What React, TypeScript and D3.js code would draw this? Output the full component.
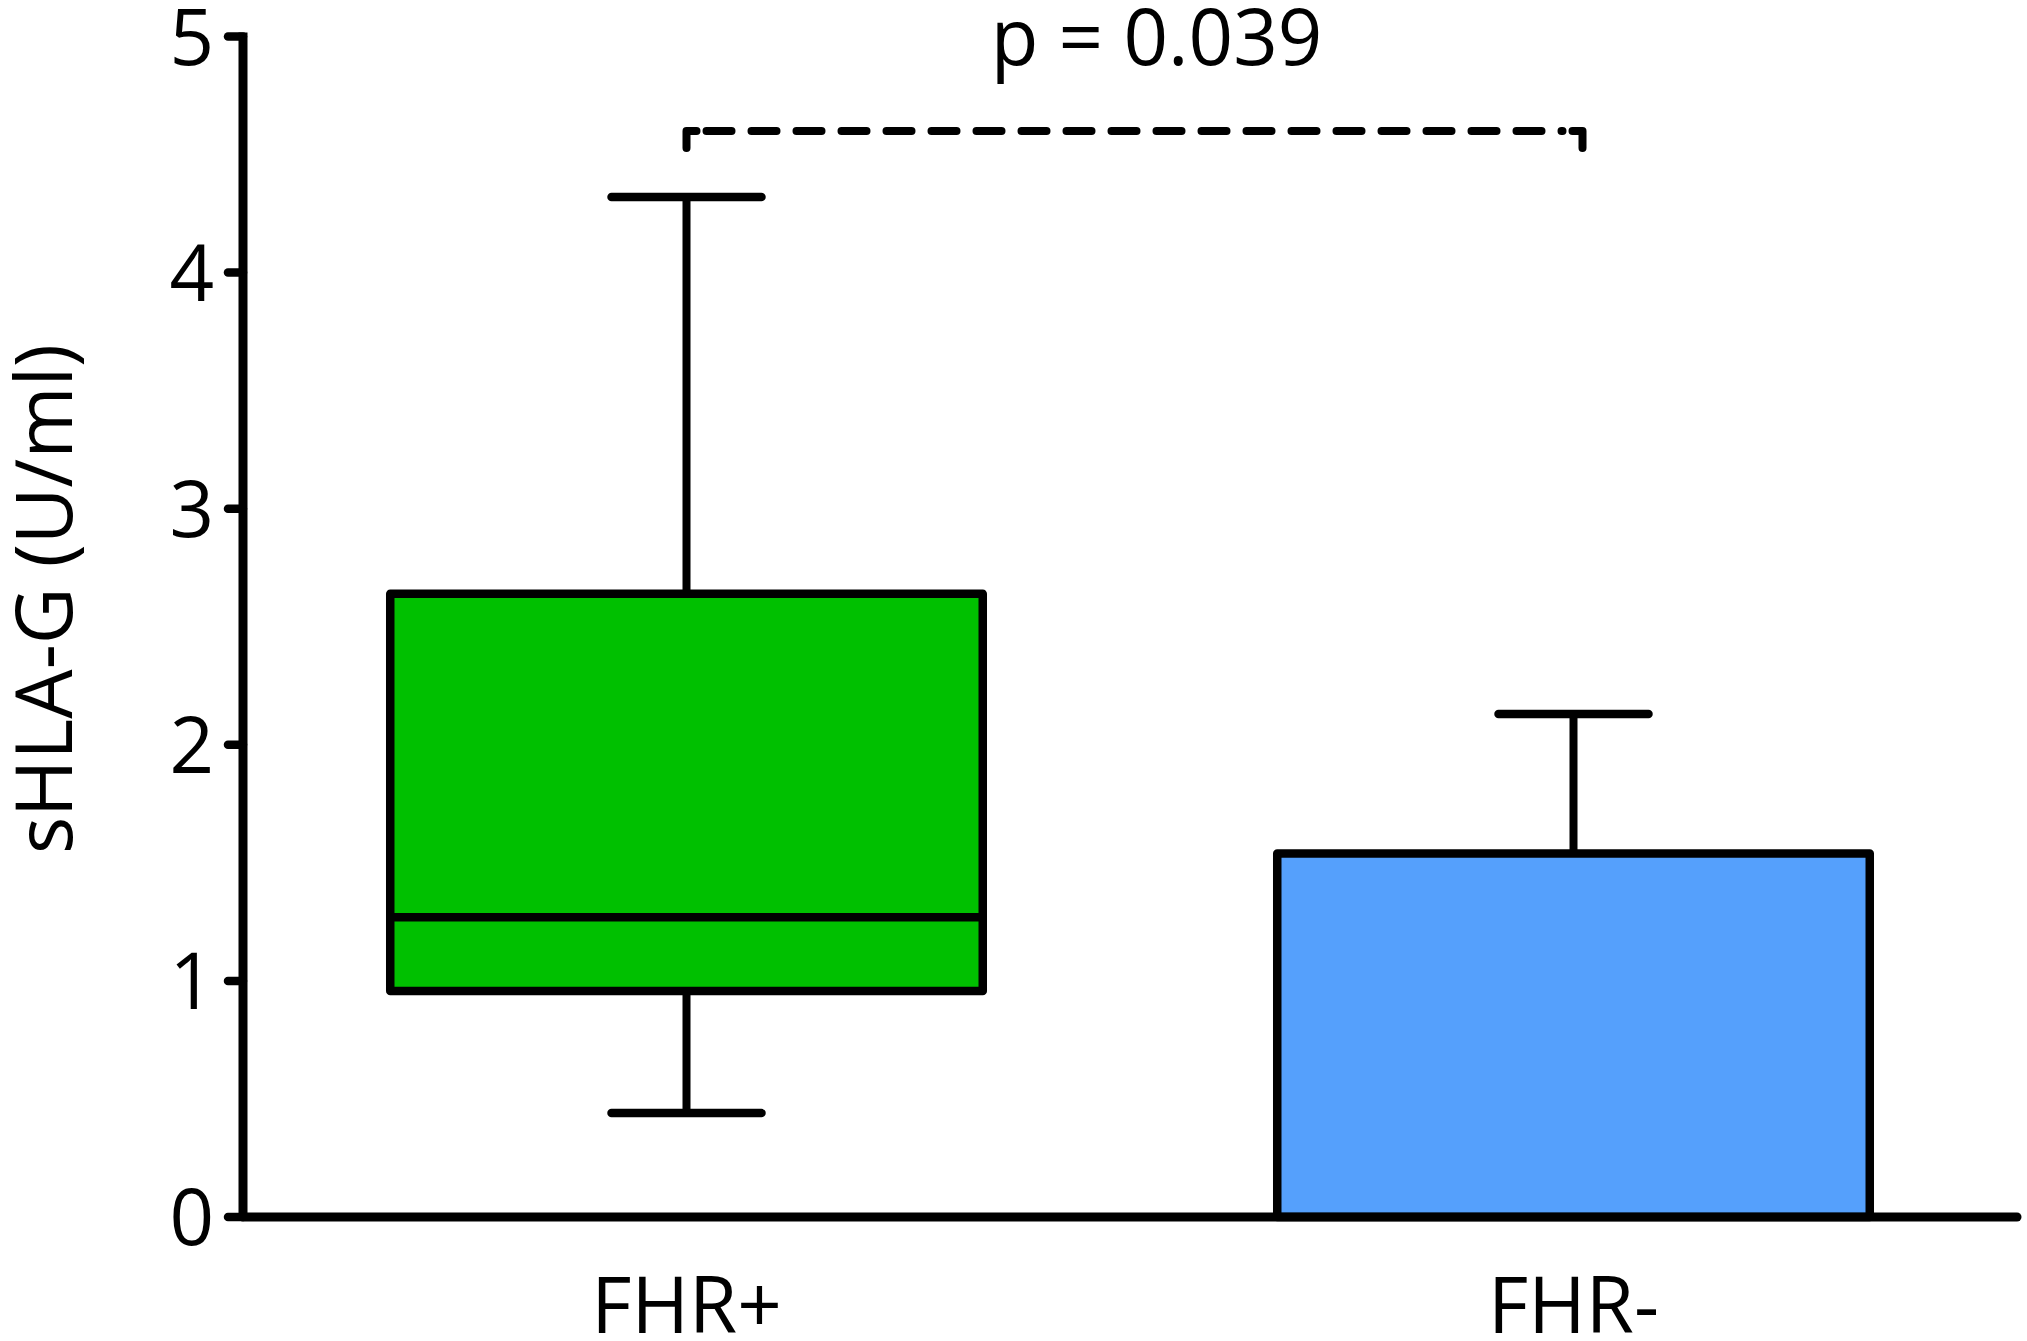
import React, { useRef, useEffect } from "react";
import * as d3 from "d3";

// groups and box statistics (U/ml)
const categories = ["FHR+", "FHR-"];
const whiskerLow = [0.44, 0];
const q1 = [0.957, 0];
const median = [1.27, 0];
const q3 = [2.64, 1.54];
const whiskerHigh = [4.32, 2.13];
const fills = ["#00c000", "#55a0fc"];

const yTicks = [0, 1, 2, 3, 4, 5];
const pLabel = "p = 0.039";
const pLevel = 4.6;
const yLabel = "sHLA-G (U/ml)";

const WIDTH = 2027;
const HEIGHT = 1341;

const App: React.FC = () => {
  const svgRef = useRef<SVGSVGElement | null>(null);

  useEffect(() => {
    const svg = d3.select(svgRef.current);
    svg.selectAll("*").remove();

    const font = "'Open Sans', 'Noto Sans', sans-serif";
    const fontSize = 78;

    // axis frame
    const x0 = 243;
    const x1 = 2017;
    const yScale = d3.scaleLinear().domain([0, 5]).range([1217, 36.5]);
    const xScale = d3
      .scaleBand<string>()
      .domain(categories)
      .range([x0, x1])
      .paddingInner(0.332)
      .paddingOuter(0.166);

    const g = svg.append("g");

    // boxes
    categories.forEach((c, i) => {
      const bx = xScale(c)!;
      const bw = xScale.bandwidth();
      const cx = bx + bw / 2;
      const capHalf = 75;

      // upper whisker
      g.append("line")
        .attr("x1", cx)
        .attr("x2", cx)
        .attr("y1", yScale(q3[i]))
        .attr("y2", yScale(whiskerHigh[i]))
        .attr("stroke", "#000")
        .attr("stroke-width", 8);
      g.append("line")
        .attr("x1", cx - capHalf)
        .attr("x2", cx + capHalf)
        .attr("y1", yScale(whiskerHigh[i]))
        .attr("y2", yScale(whiskerHigh[i]))
        .attr("stroke", "#000")
        .attr("stroke-width", 8.5)
        .attr("stroke-linecap", "round");

      // lower whisker
      if (whiskerLow[i] < q1[i]) {
        g.append("line")
          .attr("x1", cx)
          .attr("x2", cx)
          .attr("y1", yScale(q1[i]))
          .attr("y2", yScale(whiskerLow[i]))
          .attr("stroke", "#000")
          .attr("stroke-width", 8);
        g.append("line")
          .attr("x1", cx - capHalf)
          .attr("x2", cx + capHalf)
          .attr("y1", yScale(whiskerLow[i]))
          .attr("y2", yScale(whiskerLow[i]))
          .attr("stroke", "#000")
          .attr("stroke-width", 8.5)
          .attr("stroke-linecap", "round");
      }

      g.append("rect")
        .attr("x", bx)
        .attr("y", yScale(q3[i]))
        .attr("width", bw)
        .attr("height", yScale(q1[i]) - yScale(q3[i]))
        .attr("fill", fills[i])
        .attr("stroke", "#000")
        .attr("stroke-width", 8.5)
        .attr("stroke-linejoin", "round");

      if (median[i] > q1[i]) {
        g.append("line")
          .attr("x1", bx)
          .attr("x2", bx + bw)
          .attr("y1", yScale(median[i]))
          .attr("y2", yScale(median[i]))
          .attr("stroke", "#000")
          .attr("stroke-width", 8.5);
      }

      // category label
      g.append("text")
        .attr("x", cx)
        .attr("y", 1333)
        .attr("text-anchor", "middle")
        .attr("font-family", font)
        .attr("font-size", fontSize)
        .attr("fill", "#000")
        .text(c);
    });

    // y axis
    g.append("line")
      .attr("x1", x0)
      .attr("x2", x0)
      .attr("y1", yScale(0))
      .attr("y2", yScale(5) - 4)
      .attr("stroke", "#000")
      .attr("stroke-width", 9);

    yTicks.forEach((t) => {
      g.append("line")
        .attr("x1", x0)
        .attr("x2", x0 - 15)
        .attr("y1", yScale(t))
        .attr("y2", yScale(t))
        .attr("stroke", "#000")
        .attr("stroke-width", 8.5)
        .attr("stroke-linecap", "round");
      g.append("text")
        .attr("x", 214)
        .attr("y", yScale(t))
        .attr("dy", "0.36em")
        .attr("text-anchor", "end")
        .attr("font-family", font)
        .attr("font-size", fontSize)
        .attr("fill", "#000")
        .text(t);
    });

    // x axis
    g.append("line")
      .attr("x1", x0)
      .attr("x2", x1)
      .attr("y1", yScale(0))
      .attr("y2", yScale(0))
      .attr("stroke", "#000")
      .attr("stroke-width", 9)
      .attr("stroke-linecap", "round");

    // y axis title
    g.append("text")
      .attr("transform", `translate(72, 599) rotate(-90)`)
      .attr("text-anchor", "middle")
      .attr("font-family", font)
      .attr("font-size", fontSize)
      .attr("fill", "#000")
      .text(yLabel);

    // significance bracket
    const bl = xScale(categories[0])! + xScale.bandwidth() / 2;
    const br = xScale(categories[1])! + xScale.bandwidth() / 2 + 9;
    const by = yScale(pLevel);
    g.append("line")
      .attr("x1", bl + 20)
      .attr("x2", br - 20)
      .attr("y1", by)
      .attr("y2", by)
      .attr("stroke", "#000")
      .attr("stroke-width", 8)
      .attr("stroke-linecap", "round")
      .attr("stroke-dasharray", "25 20");
    [bl, br].forEach((bx, k) => {
      g.append("path")
        .attr(
          "d",
          k === 0
            ? `M${bx},${by + 17} L${bx},${by} L${bx + 10},${by}`
            : `M${bx - 10},${by} L${bx},${by} L${bx},${by + 17}`
        )
        .attr("fill", "none")
        .attr("stroke", "#000")
        .attr("stroke-width", 8)
        .attr("stroke-linecap", "round")
        .attr("stroke-linejoin", "round");
    });
    g.append("text")
      .attr("x", (bl + br) / 2 + 22)
      .attr("y", 65)
      .attr("text-anchor", "middle")
      .attr("font-family", font)
      .attr("font-size", fontSize)
      .attr("fill", "#000")
      .text(pLabel);
  }, []);

  return (
    <svg
      ref={svgRef}
      width={WIDTH}
      height={HEIGHT}
      style={{ position: "absolute", left: 0, top: 0, background: "#fff" }}
    ></svg>
  );
};

export default App;
